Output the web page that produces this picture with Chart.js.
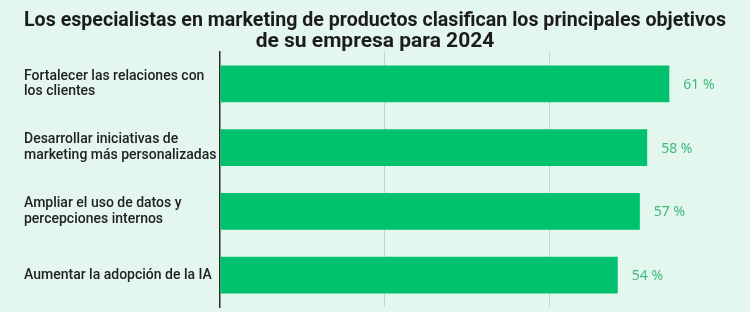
<!DOCTYPE html>
<html lang="es">
<head>
  <meta charset="UTF-8">
  <title>Objetivos 2024</title>
  <script src="https://cdn.jsdelivr.net/npm/chart.js"></script>
  <style>
    html, body { margin: 0; padding: 0; background: #e4f7ee; }
    #wrap { width: 750px; height: 312px; }
  </style>
</head>
<body>
  <div id="wrap"><canvas id="chart" width="750" height="312"></canvas></div>

  <script>
    // datos del grafico
    const titulo = [
      'Los especialistas en marketing de productos clasifican los principales objetivos',
      'de su empresa para 2024'
    ];
    const objetivos = [
      ['Fortalecer las relaciones con', 'los clientes'],
      ['Desarrollar iniciativas de', 'marketing más personalizadas'],
      ['Ampliar el uso de datos y', 'percepciones internos'],
      ['Aumentar la adopción de la IA']
    ];
    const porcentajes = [61, 58, 57, 54];
    const marcasX = [0, 22.4, 44.8];

    // etiquetas de valor al final de cada barra
    const etiquetas = {
      id: 'etiquetas',
      afterDatasetsDraw(chart) {
        const ctx = chart.ctx;
        const meta = chart.getDatasetMeta(0);
        ctx.save();
        ctx.font = '14px "Noto Sans", sans-serif';
        ctx.fillStyle = '#3dbb7c';
        ctx.textBaseline = 'middle';
        ctx.textAlign = 'left';
        meta.data.forEach((bar, i) => {
          ctx.fillText(porcentajes[i] + ' %', bar.x + 14, bar.y + 1);
        });
        ctx.restore();
      }
    };

    new Chart(document.getElementById('chart'), {
      type: 'bar',
      data: {
        labels: objetivos,
        datasets: [{
          data: porcentajes,
          backgroundColor: '#00c16e',
          borderWidth: 0,
          categoryPercentage: 1,
          barPercentage: 0.58
        }]
      },
      options: {
        indexAxis: 'y',
        responsive: false,
        animation: false,
        layout: { padding: { left: 24, right: 24, top: 0, bottom: 5 } },
        plugins: {
          legend: { display: false },
          tooltip: { enabled: false },
          title: {
            display: true,
            text: titulo,
            color: '#1c1c1c',
            font: { family: 'Roboto, sans-serif', size: 21, weight: 'bold', lineHeight: 1.0 },
            padding: { top: 10, bottom: 0 }
          }
        },
        scales: {
          x: {
            min: 0,
            max: 68.7,
            afterBuildTicks(axis) {
              axis.ticks = marcasX.map(v => ({ value: v }));
            },
            afterFit(axis) { axis.height = 0; },
            ticks: { display: false },
            border: { display: false },
            grid: {
              drawTicks: false,
              color: c => (c.index === 1 || c.index === 2) ? '#c9d3ce' : 'rgba(0,0,0,0)',
              lineWidth: 1
            }
          },
          y: {
            afterFit(axis) {
              axis.width = 196;
              axis.paddingTop = 0;
              axis.paddingBottom = 0;
            },
            grid: { display: false, drawTicks: false },
            border: { display: true, color: '#2a2a2a', width: 1.5 },
            ticks: {
              crossAlign: 'far',
              color: '#222',
              padding: 0,
              font: { family: 'Roboto, sans-serif', size: 14, weight: '500', lineHeight: 1.12 }
            }
          }
        }
      },
      plugins: [etiquetas]
    });
  </script>
</body>
</html>
